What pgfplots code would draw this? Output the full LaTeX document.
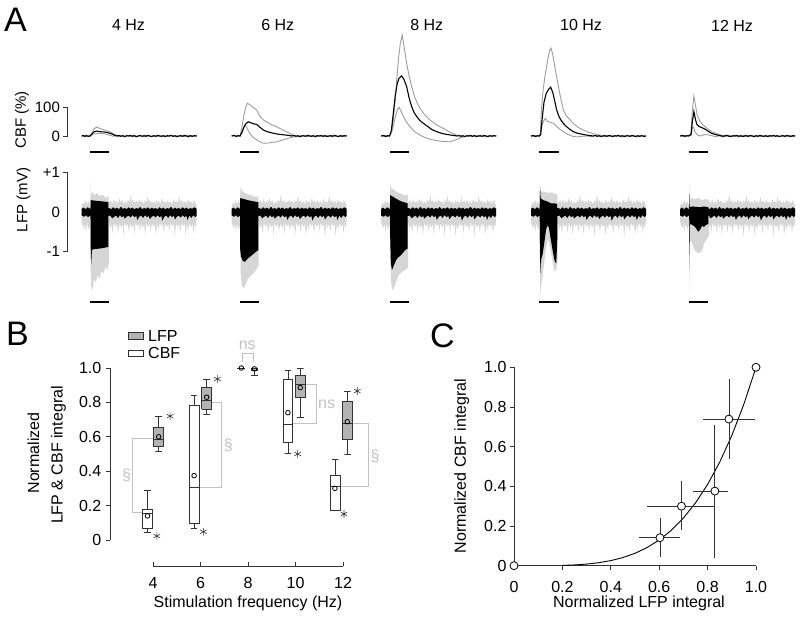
\documentclass[border=0pt]{standalone}
\usepackage{pgfplots}
\pgfplotsset{compat=1.18}
\usepackage{pgfplotstable}
\usepackage{fontspec}
\setmainfont{Liberation Sans}
\definecolor{cbfgray}{HTML}{9C9C9C}
\definecolor{lfpgray}{HTML}{D6D6D6}
\definecolor{brgray}{HTML}{C2C2C2}
\definecolor{boxfill}{HTML}{B3B3B3}
\definecolor{axcol}{HTML}{333333}
\newcommand\fs{\fontsize{16}{19}\selectfont}
\newcommand\fa{\fontsize{15}{18}\selectfont}
\newcommand\fl{\fontsize{34}{40}\selectfont}

% shared LFP baseline noise envelopes (polygons: upper edge forward, lower edge back)
\pgfplotstableread{
t y
-4.3 0.15
-3.5 0.25
-3 0.18
-2.2 0.3
-1.5 0.2
-0.8 0.28
0 0.2
2 0.25
4 0.22
6 0.27
8 0.2
10 0.25
10.8 0.3
11.5 0.2
12.2 0.33
13 0.22
13.8 0.28
14.5 0.22
15.2 0.35
16 0.24
16.8 0.3
17.5 0.2
18.2 0.26
19 0.22
19.8 0.31
20.5 0.24
21.2 0.45
21.6 0.25
22.5 0.3
23.3 0.22
24 0.29
24.8 0.23
25.5 0.32
26.3 0.24
27 0.28
27.8 0.2
28.5 0.3
29.3 0.24
30 0.42
30.5 0.25
31.3 0.3
32 0.22
32.8 0.27
33.6 0.2
34.3 0.31
35 0.23
35.8 0.28
36.5 0.21
37.3 0.38
37.8 0.24
38.6 0.29
39.4 0.22
40.2 0.3
41 0.23
41.8 0.27
42.5 0.2
43.3 0.33
44 0.24
44.8 0.28
45.5 0.22
46.3 0.4
46.8 0.25
47.6 0.3
48.4 0.22
49.2 0.28
50 0.21
50.8 0.32
51.5 0.24
52.3 0.28
53 0.2
53.8 0.3
54.6 0.23
55.3 0.15
55.3 -0.2
54.7 -0.4
54.2 -0.3
53.6 -0.55
53.2 -0.3
52.4 -0.38
51.6 -0.28
50.9 -0.45
50.3 -0.3
49.5 -0.6
49.1 -0.3
48.3 -0.36
47.5 -0.27
46.8 -0.5
46.2 -0.3
45.4 -0.4
44.6 -0.28
43.9 -0.65
43.5 -0.3
42.7 -0.37
41.9 -0.26
41.2 -0.48
40.6 -0.3
39.8 -0.38
39 -0.28
38.3 -0.55
37.8 -0.3
37 -0.36
36.2 -0.27
35.5 -0.45
34.9 -0.3
34.1 -0.6
33.7 -0.3
32.9 -0.38
32.1 -0.28
31.4 -0.5
30.8 -0.3
30 -0.37
29.2 -0.27
28.5 -0.62
28.1 -0.3
27.3 -0.4
26.5 -0.28
25.8 -0.47
25.2 -0.3
24.4 -0.36
23.6 -0.27
22.9 -0.58
22.5 -0.3
21.7 -0.4
20.9 -0.28
20.2 -0.5
19.6 -0.3
18.8 -0.37
18 -0.27
17.3 -0.6
16.9 -0.3
16.1 -0.4
15.3 -0.28
14.6 -0.52
14 -0.3
13.2 -0.38
12.4 -0.27
11.7 -0.55
11.2 -0.3
10.5 -0.42
10 -0.3
8 -0.35
6 -0.3
4 -0.35
2 -0.3
0 -0.35
-0.7 -0.45
-1.4 -0.28
-2.1 -0.5
-2.7 -0.3
-3.4 -0.42
-4.3 -0.25
}\lfpgraytab

\pgfplotstableread{
t y
-4.3 0.08
-3.3 0.11
-2.3 0.07
-1.3 0.12
0 0.08
3 0.1
6 0.08
10 0.1
11 0.07
12 0.12
13 0.08
14 0.11
15 0.07
16 0.13
17 0.08
18 0.1
19 0.07
20 0.12
21 0.08
22 0.11
23 0.07
24 0.1
25 0.08
26 0.13
27 0.07
28 0.1
29 0.08
30 0.12
31 0.07
32 0.11
33 0.08
34 0.1
35 0.07
36 0.12
37 0.08
38 0.11
39 0.07
40 0.1
41 0.08
42 0.13
43 0.07
44 0.11
45 0.08
46 0.1
47 0.07
48 0.12
49 0.08
50 0.11
51 0.07
52 0.1
53 0.08
54 0.12
55.3 0.08
55.3 -0.09
54.5 -0.13
53.5 -0.08
52.5 -0.15
51.5 -0.09
50.5 -0.2
50 -0.1
49 -0.13
48 -0.08
47 -0.14
46 -0.09
45 -0.12
44 -0.19
43.5 -0.09
42.5 -0.13
41.5 -0.08
40.5 -0.15
39.5 -0.09
38.5 -0.12
37.5 -0.22
37 -0.1
36 -0.13
35 -0.08
34 -0.14
33 -0.09
32 -0.12
31 -0.18
30.5 -0.1
29.5 -0.13
28.5 -0.08
27.5 -0.15
26.5 -0.09
25.5 -0.12
24.5 -0.2
24 -0.1
23 -0.13
22 -0.08
21 -0.14
20 -0.09
19 -0.12
18 -0.17
17.5 -0.1
16.5 -0.13
15.5 -0.08
14.5 -0.15
13.5 -0.09
12.5 -0.12
11.5 -0.16
10.5 -0.09
8 -0.12
5 -0.09
2 -0.12
0 -0.09
-1 -0.13
-2 -0.08
-3 -0.12
-4.3 -0.09
}\lfpblacktab

\pgfplotsset{
  trace/.style={hide axis, clip=false, enlargelimits=false, x=1.93pt, xmin=-4.3, xmax=55.3, anchor=south west},
  cbf/.style={trace, y=0.29pt, ymin=-60, ymax=380},
  lfp/.style={trace, y=39.5pt, ymin=-2.4, ymax=1.2},
  gline/.style={cbfgray, line width=0.9pt},
  bline/.style={black, line width=1.1pt},
  stim/.style={black, line width=2.4pt},
  bx/.style={axcol, line width=0.8pt},
}

\begin{document}
\begin{tikzpicture}
\useasboundingbox (0pt,0pt) rectangle (800pt,618pt);

% ================= Panel A : CBF =================
\begin{axis}[cbf, at={(81.7pt,464.6pt)}]
\addplot[gline] coordinates {(-4.3,1) (-3.2,-2) (-2.1,3) (-1,-1) (0,1) (1,10) (2,24) (3.5,31) (5,26) (7,22) (9,17) (10.5,14) (12,8) (13.5,3) (15,-1) (16.5,3) (18,-2) (19.5,2) (21,-1) (22.5,3) (24,-2) (25.5,1) (27,-2) (28.5,3) (30,0) (31.5,-2) (33,2) (34.5,-1) (36,3) (37.5,-2) (39,1) (40.5,-1) (42,3) (43.5,-2) (45,1) (46.5,-1) (48,2) (49.5,-2) (51,3) (52.5,-1) (54,1) (55.3,0)};
\addplot[gline] coordinates {(-4.3,-2) (-3.2,1) (-2.1,-3) (-1,1) (0,-1) (1,3) (2,7) (3.5,8) (5,9) (7,8) (9,5) (10.5,2) (12,-1) (13.5,1) (15,-3) (16.5,0) (18,-3) (19.5,1) (21,-2) (22.5,0) (24,-3) (25.5,1) (27,-1) (28.5,-3) (30,1) (31.5,-2) (33,0) (34.5,-3) (36,1) (37.5,-2) (39,0) (40.5,-3) (42,1) (43.5,-1) (45,-3) (46.5,1) (48,-2) (49.5,0) (51,-3) (52.5,1) (54,-2) (55.3,0)};
\addplot[bline] coordinates {(-4.3,0) (-3.5,2) (-2.7,-1) (-1.8,1) (-0.9,-1) (0,0) (1,7) (2,14) (3.5,17) (5,15) (7,14) (9,12) (10.5,9) (12,5) (13,2) (14,0) (15,2) (16,-1) (17,1) (18,-2) (19,1) (20,0) (21,2) (22,-1) (23,1) (24,-2) (25,0) (26,2) (27,-1) (28,1) (29,-1) (30,2) (31,0) (32,-2) (33,1) (34,-1) (35,2) (36,0) (37,-1) (38,1) (39,-2) (40,1) (41,0) (42,2) (43,-1) (44,1) (45,-2) (46,0) (47,1) (48,-1) (49,2) (50,0) (51,-2) (52,1) (53,-1) (54,1) (55.3,0)};
\addplot[stim] coordinates {(0,-55) (10,-55)};
\draw[axcol, line width=0.8pt] (axis cs:-14,100) -- (axis cs:-11.9,100) -- (axis cs:-11.9,0) -- (axis cs:-14,0);
\node[font=\fa, anchor=east, inner sep=0pt] at (axis cs:-15.5,100) {100};
\node[font=\fa, anchor=east, inner sep=0pt] at (axis cs:-15.5,0) {0};
\end{axis}

\begin{axis}[cbf, at={(231.7pt,464.6pt)}]
\addplot[gline] coordinates {(-4.3,1) (-3,3) (-2,-2) (-1,2) (0,0) (1,30) (2,70) (3,100) (3.8,113) (5,108) (6.5,100) (8.6,90) (10.4,67) (12,56) (13.8,49) (16,40) (19,32) (21.5,23) (24,15) (26,8) (28,2) (30,-2) (32,2) (34,-1) (36,3) (38,-2) (40,1) (42,-2) (44,2) (46,-1) (48,3) (50,-2) (52,1) (53.5,-1) (55.3,0)};
\addplot[gline] coordinates {(-4.3,-1) (-3,1) (-2,-3) (-1,0) (0,-1) (1,15) (2.5,38) (3.5,30) (5,10) (6.8,-5) (9,-15) (12,-25) (15,-24) (19,-20) (23,-12) (26,-6) (29,-1) (31,-3) (33,1) (35,-2) (37,1) (39,-3) (41,0) (43,-2) (45,1) (47,-3) (49,0) (51,-2) (53,1) (55.3,-1)};
\addplot[bline] coordinates {(-4.3,0) (-3,2) (-2,-1) (-1,1) (0,0) (1,12) (2,30) (3,42) (4.3,49) (5.5,46) (7,42) (8.6,40) (10,32) (12,21) (14,15) (17,10) (20,6) (24,3) (27,0) (28,2) (29,-1) (30,1) (31,-2) (32,0) (33,1) (34,-1) (35,2) (36,0) (37,-1) (38,1) (39,-2) (40,1) (41,0) (42,2) (43,-1) (44,1) (45,-2) (46,0) (47,1) (48,-1) (49,2) (50,0) (51,-2) (52,1) (53,-1) (54,1) (55.3,0)};
\addplot[stim] coordinates {(0,-55) (10,-55)};
\end{axis}

\begin{axis}[cbf, at={(381.2pt,464.6pt)}]
\addplot[gline] coordinates {(-4.3,1) (-3,-2) (-2,2) (-1,-1) (0,1) (1,15) (2,60) (2.8,113) (3.7,190) (4.6,262) (5.6,320) (6.6,348) (7.5,310) (8.9,251) (10.2,205) (11.5,170) (13,135) (14.5,112) (15.8,96) (18,75) (21,55) (24,40) (27.9,26) (31,14) (34.8,3) (37,1) (39,-2) (41,2) (43,-1) (45,3) (47,-2) (49,1) (51,-1) (53,2) (55.3,0)};
\addplot[gline] coordinates {(-4.3,-1) (-3,1) (-2,-2) (-1,0) (0,-1) (1,10) (2,35) (3,65) (4,90) (4.9,99) (6,85) (7.2,67) (8.8,48) (10.6,32) (13,15) (15.8,3) (19,-7) (22,-13) (24.5,-16) (28,-19) (31.3,-20) (34,-14) (36.5,-7) (40,0) (42,-2) (44,1) (46,-2) (48,0) (50,-3) (52,1) (55.3,-1)};
\addplot[bline] coordinates {(-4.3,0) (-3,2) (-2,-2) (-1,1) (0,0) (1,20) (2,80) (3,140) (4,180) (5,200) (6.3,207) (7.5,195) (8.9,170) (10.2,130) (11.5,101) (12.8,80) (14.1,67) (15.8,53) (17.5,44) (20,32) (22,22) (24.5,15) (27,9) (30,5) (33,2) (35,0) (36,1) (37,-1) (38,1) (39,-2) (40,1) (41,0) (42,2) (43,-1) (44,1) (45,-2) (46,0) (47,1) (48,-1) (49,2) (50,0) (51,-2) (52,1) (53,-1) (54,1) (55.3,0)};
\addplot[stim] coordinates {(0,-55) (10,-55)};
\end{axis}

\begin{axis}[cbf, at={(531pt,464.6pt)}]
\addplot[gline] coordinates {(-4.3,1) (-3,-2) (-2,2) (-1,-1) (0,1) (0.5,5) (1.2,100) (2,160) (3,210) (4.3,260) (5.3,295) (6.1,303) (7,280) (8,240) (9,204) (10.5,150) (12.4,90) (14,70) (16,55) (17.6,44) (20,30) (24.6,15) (28,8) (31.5,3) (35,0) (37,2) (39,-2) (41,1) (43,-1) (45,3) (47,-2) (49,1) (51,-1) (53,2) (55.3,0)};
\addplot[gline] coordinates {(-4.3,-1) (-3,1) (-2,-2) (-1,0) (0,-1) (0.7,5) (1.5,40) (3,61) (4.5,50) (6,46) (7.3,44) (9,33) (10.5,24) (12.4,15) (15,5) (17.6,-2) (20,-3) (22,-1) (24.6,0) (27,-2) (29,1) (31,-2) (33,0) (35,-3) (37,1) (39,-2) (41,0) (43,-3) (45,1) (47,-2) (49,0) (51,-3) (53,1) (55.3,-1)};
\addplot[bline] coordinates {(-4.3,0) (-3,2) (-2,-2) (-1,1) (0,0) (0.7,5) (1.5,60) (2.4,115) (3.5,145) (4.7,160) (5.9,168) (7,150) (8,120) (9,90) (10,70) (11,57) (12.4,44) (14,33) (16,22) (17.6,15) (20,9) (24.6,3) (28,0) (29,2) (30,-1) (31,1) (32,-2) (33,0) (34,1) (35,-1) (36,2) (37,0) (38,-2) (39,1) (40,0) (41,2) (42,-1) (43,1) (44,-2) (45,0) (46,1) (47,-1) (48,2) (49,0) (50,-2) (51,1) (52,-1) (53,1) (54,-1) (55.3,0)};
\addplot[stim] coordinates {(0,-55) (10,-55)};
\end{axis}

\begin{axis}[cbf, at={(680.2pt,464.6pt)}]
\addplot[gline] coordinates {(-4.3,1) (-3,-2) (-2,2) (-1,-1) (0,1) (1.3,10) (2,90) (2.8,138) (3.5,110) (4.5,72) (6,50) (7.5,38) (9.5,27) (12,15) (14.5,8) (17,3) (19,0) (21,3) (23,-2) (25,1) (27,-1) (29,3) (31,-2) (33,1) (35,-1) (37,3) (39,-2) (41,1) (43,-1) (45,3) (47,-2) (49,1) (51,-1) (53,2) (55.3,0)};
\addplot[gline] coordinates {(-4.3,-1) (-3,1) (-2,-2) (-1,0) (0,-1) (1.3,3) (2.2,31) (2.8,28) (3.5,12) (5,2) (6.4,0) (8,5) (10,4) (12,1) (14,-2) (16,1) (18,-3) (20,0) (22,-2) (24,1) (26,-3) (28,0) (30,-2) (32,1) (34,-3) (36,0) (38,-2) (40,1) (42,-3) (44,0) (46,-2) (48,1) (50,-3) (52,0) (54,-2) (55.3,-1)};
\addplot[bline] coordinates {(-4.3,0) (-3,2) (-2,-1) (-1,1) (0,0) (1.3,5) (2,50) (2.8,84) (3.5,60) (4.3,40) (5.5,33) (7.5,27) (9,22) (10.5,15) (12,9) (14,5) (16.5,1) (18,-1) (19,1) (20,2) (21,-1) (22,-2) (23,1) (24,0) (25,2) (26,-1) (27,1) (28,-2) (29,0) (30,1) (31,-1) (32,2) (33,0) (34,-2) (35,1) (36,-1) (37,2) (38,0) (39,-1) (40,1) (41,-2) (42,1) (43,0) (44,2) (45,-1) (46,1) (47,-2) (48,0) (49,1) (50,-1) (51,2) (52,0) (53,-2) (54,1) (55.3,0)};
\addplot[stim] coordinates {(0,-55) (10,-55)};
\end{axis}

% ================= Panel A : LFP =================
\begin{axis}[lfp, at={(81.7pt,311.2pt)}]
\addplot[fill=lfpgray, draw=none] table[x=t,y=y] {\lfpgraytab};
\addplot[fill=lfpgray, draw=none] coordinates {(0.2,0.25) (0.4,0.75) (0.6,0.45) (1.5,0.5) (2.5,0.42) (3.5,0.48) (5,0.4) (6.5,0.44) (8,0.36) (9.6,0.4) (9.8,0.2) (9.8,-1.3) (9,-1.45) (8,-1.38) (7,-1.55) (6,-1.5) (5,-1.68) (4,-1.6) (3,-1.78) (2,-1.7) (1.4,-2.0) (0.9,-1.85) (0.5,-1.95) (0.3,-1.2) (0.2,-0.3)};
\addplot[fill=black, draw=none] table[x=t,y=y] {\lfpblacktab};
\addplot[fill=black, draw=none] coordinates {(0.25,0.1) (0.35,0.3) (2,0.29) (4,0.28) (6,0.27) (8,0.26) (9.5,0.25) (9.55,0.1) (9.55,-0.88) (8,-0.9) (6,-0.92) (4,-0.93) (2,-0.94) (1,-0.96) (0.6,-1.34) (0.4,-1.0) (0.25,-0.1)};
\addplot[stim] coordinates {(0,-2.28) (10,-2.28)};
\draw[axcol, line width=0.8pt] (axis cs:-14,1) -- (axis cs:-11.9,1) -- (axis cs:-11.9,-1) -- (axis cs:-14,-1);
\node[font=\fa, anchor=east, inner sep=0pt] at (axis cs:-15.5,1) {+1};
\node[font=\fa, anchor=east, inner sep=0pt] at (axis cs:-15.5,0) {0};
\node[font=\fa, anchor=east, inner sep=0pt] at (axis cs:-15.5,-1) {-1};
\end{axis}

\begin{axis}[lfp, at={(231.7pt,311.2pt)}]
\addplot[fill=lfpgray, draw=none] table[x=t,y=y] {\lfpgraytab};
\addplot[fill=lfpgray, draw=none] coordinates {(0,0.25) (0.2,0.62) (1,0.55) (2.5,0.48) (4,0.45) (6,0.42) (8,0.38) (9.5,0.4) (9.7,0.2) (9.7,-1.35) (8.5,-1.45) (7,-1.55) (5.5,-1.62) (4,-1.7) (2.8,-1.85) (1.8,-1.93) (1,-1.88) (0.4,-1.6) (0,-0.3)};
\addplot[fill=black, draw=none] table[x=t,y=y] {\lfpblacktab};
\addplot[fill=black, draw=none] coordinates {(0,0.1) (0.1,0.35) (2,0.33) (4,0.3) (6,0.28) (8,0.26) (9.5,0.25) (9.55,0.1) (9.55,-0.96) (8,-1.02) (6,-1.1) (4,-1.18) (2.6,-1.26) (1.5,-1.24) (0.5,-1.13) (0,-0.9) (0,-0.1)};
\addplot[stim] coordinates {(0,-2.28) (10,-2.28)};
\end{axis}

\begin{axis}[lfp, at={(381.2pt,311.2pt)}]
\addplot[fill=lfpgray, draw=none] table[x=t,y=y] {\lfpgraytab};
\addplot[fill=lfpgray, draw=none] coordinates {(0.2,0.25) (0.35,0.68) (1,0.6) (2.5,0.55) (4,0.5) (6,0.46) (8,0.42) (9.5,0.44) (9.7,0.2) (9.7,-1.4) (8.5,-1.45) (7,-1.5) (5,-1.58) (3.5,-1.75) (2,-1.97) (1.3,-1.95) (0.7,-1.7) (0.3,-0.8) (0.2,-0.3)};
\addplot[fill=black, draw=none] table[x=t,y=y] {\lfpblacktab};
\addplot[fill=black, draw=none] coordinates {(0.25,0.1) (0.3,0.43) (2,0.38) (4,0.32) (6,0.27) (8,0.24) (9.4,0.22) (9.45,0.1) (9.45,-0.92) (8,-0.97) (6,-1.09) (4.5,-1.15) (3.4,-1.22) (2,-1.38) (1.3,-1.47) (0.7,-1.3) (0.3,-0.5) (0.25,-0.1)};
\addplot[stim] coordinates {(0,-2.28) (10,-2.28)};
\end{axis}

\begin{axis}[lfp, at={(531pt,311.2pt)}]
\addplot[fill=lfpgray, draw=none] table[x=t,y=y] {\lfpgraytab};
\addplot[fill=lfpgray, draw=none] coordinates {(0,0.25) (0.3,0.68) (0.7,0.5) (2,0.52) (3.5,0.5) (5,0.48) (6.5,0.5) (8,0.46) (9.3,0.45) (9.5,0.2) (9.5,-1.2) (8.8,-1.45) (7.8,-1.5) (7,-1.3) (6,-1.0) (5,-0.75) (4.3,-0.7) (3.5,-0.9) (2.5,-1.3) (1.5,-1.7) (0.8,-1.9) (0.5,-2.14) (0.3,-1.5) (0,-0.3)};
\addplot[fill=black, draw=none] table[x=t,y=y] {\lfpblacktab};
\addplot[fill=black, draw=none] coordinates {(0.2,0.1) (0.4,0.64) (0.7,0.35) (2,0.3) (4,0.27) (6,0.22) (8,0.22) (9.2,0.2) (9.3,0.1) (9.3,-0.7) (8.8,-1.3) (8,-1.25) (7,-1.0) (6,-0.71) (5,-0.4) (4.3,-0.33) (3.5,-0.45) (2.8,-0.7) (1.8,-1.05) (1,-1.2) (0.6,-1.55) (0.45,-1.2) (0.2,-0.1)};
\addplot[stim] coordinates {(0,-2.28) (10,-2.28)};
\end{axis}

\begin{axis}[lfp, at={(680.2pt,311.2pt)}]
\addplot[fill=lfpgray, draw=none] table[x=t,y=y] {\lfpgraytab};
\addplot[fill=lfpgray, draw=none] coordinates {(0.3,0.2) (0.5,0.71) (0.7,0.3) (1.5,0.35) (3,0.33) (5,0.35) (7,0.3) (9,0.33) (10.5,0.3) (10.5,-0.6) (9,-0.72) (8,-0.8) (7,-1.0) (6,-1.02) (5,-1.05) (4,-1.0) (3,-0.95) (2,-0.8) (1,-0.7) (0.7,-0.9) (0.55,-2.0) (0.4,-1.0) (0.3,-0.3)};
\addplot[fill=black, draw=none] table[x=t,y=y] {\lfpblacktab};
\addplot[fill=black, draw=none] coordinates {(0.35,0.1) (0.5,0.48) (0.65,0.12) (2,0.14) (4,0.13) (6,0.12) (8,0.14) (10.3,0.12) (10.3,-0.3) (9,-0.33) (8,-0.38) (7,-0.35) (6,-0.45) (5,-0.5) (4,-0.42) (3,-0.36) (2,-0.33) (1,-0.3) (0.7,-0.35) (0.55,-1.47) (0.45,-0.4) (0.35,-0.1)};
\addplot[stim] coordinates {(0,-2.28) (10,-2.28)};
\end{axis}

% Panel A text
\node[font=\fl, inner sep=0pt] at (15.5pt,598.5pt) {A};
\node[font=\fs, inner sep=0pt] at (128.5pt,592.5pt) {4 Hz};
\node[font=\fs, inner sep=0pt] at (277.7pt,592.5pt) {6 Hz};
\node[font=\fs, inner sep=0pt] at (426.7pt,592.5pt) {8 Hz};
\node[font=\fs, inner sep=0pt] at (581pt,592.5pt) {10 Hz};
\node[font=\fs, inner sep=0pt] at (732pt,592.5pt) {12 Hz};
\node[font=\fa, inner sep=0pt, rotate=90] at (22pt,498pt) {CBF (\%)};
\node[font=\fa, inner sep=0pt, rotate=90] at (23.5pt,418pt) {LFP (mV)};

% ================= Panel B =================
\begin{axis}[hide axis, clip=false, enlargelimits=false, x=23.75pt, y=172pt, xmin=2, xmax=13.5, ymin=-0.2, ymax=1.2, anchor=south west, at={(105.5pt,43.6pt)}]
% brackets
\draw[brgray, line width=0.8pt] (axis cs:4.03,0.591) -- (axis cs:3.14,0.591) -- (axis cs:3.14,0.159) -- (axis cs:3.56,0.159);
\draw[brgray, line width=0.8pt] (axis cs:6.47,0.80) -- (axis cs:6.89,0.80) -- (axis cs:6.89,0.306) -- (axis cs:5.94,0.306);
\draw[brgray, line width=0.8pt] (axis cs:7.76,1.037) -- (axis cs:7.76,1.085) -- (axis cs:8.22,1.085) -- (axis cs:8.22,1.037);
\draw[brgray, line width=0.8pt] (axis cs:10.41,0.907) -- (axis cs:10.86,0.907) -- (axis cs:10.86,0.678) -- (axis cs:9.89,0.678);
\draw[brgray, line width=0.8pt] (axis cs:12.39,0.678) -- (axis cs:13.07,0.678) -- (axis cs:13.07,0.314) -- (axis cs:11.87,0.314);
\node[font=\fs, text=brgray, inner sep=0pt] at (axis cs:2.89,0.378) {§};
\node[font=\fs, text=brgray, inner sep=0pt] at (axis cs:7.17,0.552) {§};
\node[font=\fs, text=brgray, inner sep=0pt] at (axis cs:13.35,0.484) {§};
\node[font=\fs, text=brgray, inner sep=0pt] at (axis cs:7.97,1.134) {ns};
\node[font=\fs, text=brgray, inner sep=0pt] at (axis cs:11.31,0.79) {ns};
% whiskers with caps
\addplot[bx] coordinates {(3.63,0.29) (3.91,0.29) (3.77,0.29) (3.77,0.18)};
\addplot[bx] coordinates {(3.77,0.065) (3.77,0.045) (3.63,0.045) (3.91,0.045)};
\addplot[bx] coordinates {(5.59,0.843) (5.87,0.843) (5.73,0.843) (5.73,0.785)};
\addplot[bx] coordinates {(5.73,0.097) (5.73,0.068) (5.59,0.068) (5.87,0.068)};
\addplot[bx] coordinates {(9.54,0.984) (9.82,0.984) (9.68,0.984) (9.68,0.936)};
\addplot[bx] coordinates {(9.68,0.568) (9.68,0.504) (9.54,0.504) (9.82,0.504)};
\addplot[bx] coordinates {(11.52,0.469) (11.80,0.469) (11.66,0.469) (11.66,0.378)};
\addplot[bx] coordinates {(4.10,0.72) (4.38,0.72) (4.24,0.72) (4.24,0.657)};
\addplot[bx] coordinates {(4.24,0.543) (4.24,0.515) (4.10,0.515) (4.38,0.515)};
\addplot[bx] coordinates {(6.12,0.934) (6.40,0.934) (6.26,0.934) (6.26,0.888)};
\addplot[bx] coordinates {(6.26,0.76) (6.26,0.731) (6.12,0.731) (6.40,0.731)};
\addplot[bx] coordinates {(10.06,0.998) (10.34,0.998) (10.2,0.998) (10.2,0.958)};
\addplot[bx] coordinates {(10.2,0.827) (10.2,0.713) (10.06,0.713) (10.34,0.713)};
\addplot[bx] coordinates {(12.04,0.862) (12.32,0.862) (12.18,0.862) (12.18,0.808)};
\addplot[bx] coordinates {(12.18,0.585) (12.18,0.50) (12.04,0.50) (12.32,0.50)};
\addplot[bx] coordinates {(8.13,1.0) (8.41,1.0) (8.27,1.0) (8.27,0.955) (8.13,0.955) (8.41,0.955)};
\addplot[bx] coordinates {(7.55,1.0) (7.89,1.0)};
% CBF boxes (white)
\addplot[bx, fill=white] coordinates {(3.56,0.065) (3.98,0.065) (3.98,0.18) (3.56,0.18) (3.56,0.065)};
\addplot[bx, fill=white] coordinates {(5.52,0.097) (5.94,0.097) (5.94,0.785) (5.52,0.785) (5.52,0.097)};
\addplot[bx, fill=white] coordinates {(9.47,0.568) (9.89,0.568) (9.89,0.936) (9.47,0.936) (9.47,0.568)};
\addplot[bx, fill=white] coordinates {(11.45,0.174) (11.87,0.174) (11.87,0.378) (11.45,0.378) (11.45,0.174)};
% LFP boxes (gray)
\addplot[bx, fill=boxfill] coordinates {(4.03,0.543) (4.45,0.543) (4.45,0.657) (4.03,0.657) (4.03,0.543)};
\addplot[bx, fill=boxfill] coordinates {(6.05,0.76) (6.47,0.76) (6.47,0.888) (6.05,0.888) (6.05,0.76)};
\addplot[bx, fill=boxfill] coordinates {(8.14,0.985) (8.40,0.985) (8.40,1.0) (8.14,1.0) (8.14,0.985)};
\addplot[bx, fill=boxfill] coordinates {(9.99,0.827) (10.41,0.827) (10.41,0.958) (9.99,0.958) (9.99,0.827)};
\addplot[bx, fill=boxfill] coordinates {(11.97,0.585) (12.39,0.585) (12.39,0.808) (11.97,0.808) (11.97,0.585)};
% medians
\addplot[bx] coordinates {(3.56,0.155) (3.98,0.155)};
\addplot[bx] coordinates {(5.52,0.306) (5.94,0.306)};
\addplot[bx] coordinates {(9.47,0.674) (9.89,0.674)};
\addplot[bx] coordinates {(11.45,0.31) (11.87,0.31)};
\addplot[bx] coordinates {(4.03,0.585) (4.45,0.585)};
\addplot[bx] coordinates {(6.05,0.81) (6.47,0.81)};
\addplot[bx] coordinates {(9.99,0.905) (10.41,0.905)};
\addplot[bx] coordinates {(11.97,0.678) (12.39,0.678)};
% means
\addplot[only marks, mark=o, mark size=2.3pt, black, line width=0.8pt] coordinates {(3.77,0.14) (5.73,0.374) (7.72,1.0) (9.68,0.74) (11.66,0.30) (4.24,0.60) (6.26,0.83) (8.27,0.995) (10.2,0.886) (12.18,0.688)};
% significance asterisks
\addplot[only marks, mark=asterisk, mark size=3.8pt, color=axcol, line width=0.6pt] coordinates {(4.16,0.023) (4.72,0.72) (6.12,0.048) (6.71,0.936) (10.09,0.50) (12.04,0.151) (12.6,0.866)};
\end{axis}

% Panel B axes & text
\node[font=\fl, inner sep=0pt] at (17.5pt,284pt) {B};
\draw[axcol, fill=boxfill, line width=0.8pt] (128.3pt,278.7pt) rectangle (143.3pt,285.3pt);
\draw[axcol, fill=white, line width=0.8pt] (128.3pt,262pt) rectangle (143.3pt,268pt);
\node[font=\fs, anchor=west, inner sep=0pt] at (148pt,282pt) {LFP};
\node[font=\fs, anchor=west, inner sep=0pt] at (148pt,265pt) {CBF};
\draw[axcol, line width=0.8pt] (110pt,78pt) -- (110pt,250pt);
\draw[axcol, line width=0.8pt] (106pt,78pt) -- (110pt,78pt) (106pt,112.4pt) -- (110pt,112.4pt) (106pt,146.8pt) -- (110pt,146.8pt) (106pt,181.2pt) -- (110pt,181.2pt) (106pt,215.6pt) -- (110pt,215.6pt) (106pt,250pt) -- (110pt,250pt);
\node[font=\fs, anchor=east, inner sep=0pt] at (101.5pt,78pt) {0};
\node[font=\fs, anchor=east, inner sep=0pt] at (101.5pt,112.4pt) {0.2};
\node[font=\fs, anchor=east, inner sep=0pt] at (101.5pt,146.8pt) {0.4};
\node[font=\fs, anchor=east, inner sep=0pt] at (101.5pt,181.2pt) {0.6};
\node[font=\fs, anchor=east, inner sep=0pt] at (101.5pt,215.6pt) {0.8};
\node[font=\fs, anchor=east, inner sep=0pt] at (101.5pt,250pt) {1.0};
\draw[axcol, line width=0.8pt] (153pt,52pt) -- (343pt,52pt);
\draw[axcol, line width=0.8pt] (153pt,52pt) -- (153pt,56pt) (200.5pt,52pt) -- (200.5pt,56pt) (248pt,52pt) -- (248pt,56pt) (295.5pt,52pt) -- (295.5pt,56pt) (343pt,52pt) -- (343pt,56pt);
\node[font=\fs, inner sep=0pt] at (153pt,35pt) {4};
\node[font=\fs, inner sep=0pt] at (200.5pt,35pt) {6};
\node[font=\fs, inner sep=0pt] at (248pt,35pt) {8};
\node[font=\fs, inner sep=0pt] at (295.5pt,35pt) {10};
\node[font=\fs, inner sep=0pt] at (343pt,35pt) {12};
\node[font=\fs, inner sep=0pt, rotate=90] at (33.5pt,165pt) {Normalized};
\node[font=\fs, inner sep=0pt, rotate=90] at (58.5pt,163pt) {LFP \& CBF integral};
\node[font=\fs, inner sep=0pt] at (248pt,15pt) {Stimulation frequency (Hz)};

% ================= Panel C =================
\begin{axis}[clip=false, enlargelimits=false, x=242pt, y=198.4pt, xmin=0, xmax=1, ymin=0, ymax=1,
  anchor=south west, at={(514pt,52.3pt)},
  axis lines*=left, axis line style={axcol, line width=0.8pt},
  tick style={axcol, line width=0.8pt}, tick align=outside, major tick length=4pt,
  xtick={0,0.2,0.4,0.6,0.8,1}, xticklabels={0,0.2,0.4,0.6,0.8,1.0},
  ytick={0,0.2,0.4,0.6,0.8,1}, yticklabels={0,0.2,0.4,0.6,0.8,1.0},
  ticklabel style={font=\fs}, xticklabel style={yshift=-8pt}]
\addplot[black, line width=0.9pt] coordinates {(0.2,0.0016) (0.25,0.0039) (0.3,0.0081) (0.35,0.0150) (0.4,0.0256) (0.45,0.0410) (0.5,0.0625) (0.55,0.0915) (0.6,0.1296) (0.65,0.1785) (0.7,0.2401) (0.75,0.3164) (0.8,0.4096) (0.85,0.5220) (0.9,0.6561) (0.95,0.8145) (1.0,1.0)};
\addplot[only marks, mark=*, mark size=4pt, mark options={fill=white, draw=black, line width=0.8pt},
  error bars/.cd, x dir=both, x explicit, y dir=both, y explicit,
  error bar style={axcol, line width=0.8pt}, error mark options={axcol, line width=0.8pt, mark size=3pt}]
  coordinates {(0.603,0.141) += (0.072,0.086) -= (0.073,0.084)
               (0.692,0.30) += (0.122,0.11) -= (0.128,0.107)
               (0.83,0.376) += (0.042,0.32) -= (0.076,0.322)
               (0.888,0.739) += (0.097,0.187) -= (0.095,0.186)};
\addplot[only marks, mark=*, mark size=4pt, mark options={fill=white, draw=black, line width=0.8pt}] coordinates {(0,0) (1,1)};
\end{axis}
\node[font=\fl, inner sep=0pt] at (442.5pt,282pt) {C};
\node[font=\fs, inner sep=0pt] at (639pt,15pt) {Normalized LFP integral};
\node[font=\fs, inner sep=0pt, rotate=90] at (461.7pt,152pt) {Normalized CBF integral};

\end{tikzpicture}
\end{document}
